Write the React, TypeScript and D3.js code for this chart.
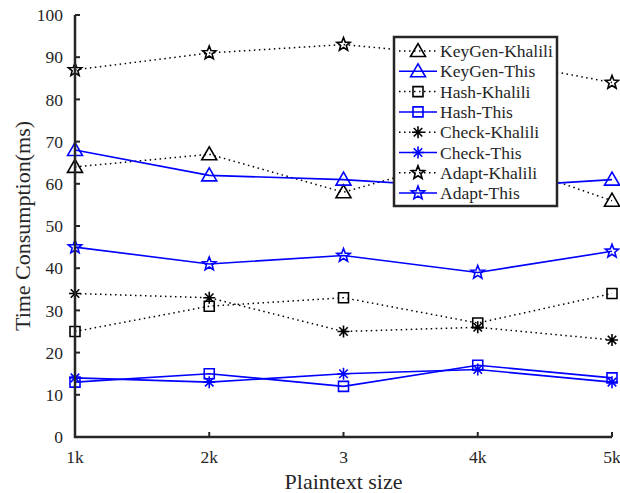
import React from "react";
import * as d3 from "d3";

// categories and series
const categories = ["1k", "2k", "3", "4k", "5k"];
const yTicks = [0, 10, 20, 30, 40, 50, 60, 70, 80, 90, 100];

const keygenKhalili = [64, 67, 58, 67, 56];
const keygenThis = [68, 62, 61, 59, 61];
const hashKhalili = [25, 31, 33, 27, 34];
const hashThis = [13, 15, 12, 17, 14];
const checkKhalili = [34, 33, 25, 26, 23];
const checkThis = [14, 13, 15, 16, 13];
const adaptKhalili = [87, 91, 93, 90, 84];
const adaptThis = [45, 41, 43, 39, 44];

type Marker = "tri" | "sq" | "ast" | "star";

const series: { name: string; values: number[]; marker: Marker; mine: boolean }[] = [
  { name: "KeyGen-Khalili", values: keygenKhalili, marker: "tri", mine: false },
  { name: "KeyGen-This", values: keygenThis, marker: "tri", mine: true },
  { name: "Hash-Khalili", values: hashKhalili, marker: "sq", mine: false },
  { name: "Hash-This", values: hashThis, marker: "sq", mine: true },
  { name: "Check-Khalili", values: checkKhalili, marker: "ast", mine: false },
  { name: "Check-This", values: checkThis, marker: "ast", mine: true },
  { name: "Adapt-Khalili", values: adaptKhalili, marker: "star", mine: false },
  { name: "Adapt-This", values: adaptThis, marker: "star", mine: true },
];

const W = 620;
const H = 493;
const m = { left: 75, right: 612, top: 15, bottom: 437 };
const FONT = "'Liberation Serif', 'Times New Roman', serif";
const AXIS = "#262626";
const TEXT = "#262626";

function markerPath(kind: Marker): string {
  if (kind === "tri") return "M-7.5,5.5L0,-7.5L7.5,5.5Z";
  if (kind === "sq") return "M-5,-5H5V5H-5Z";
  if (kind === "ast") {
    const r = 6, d = r * 0.707;
    return `M${-r},0H${r}M0,${-r}V${r}M${-d},${-d}L${d},${d}M${-d},${d}L${d},${-d}`;
  }
  // pentagram
  const pts: string[] = [];
  for (let i = 0; i < 10; i++) {
    const rr = i % 2 === 0 ? 7 : 3;
    const a = -Math.PI / 2 + (i * Math.PI) / 5;
    pts.push(`${(rr * Math.cos(a)).toFixed(2)},${(rr * Math.sin(a)).toFixed(2)}`);
  }
  return "M" + pts.join("L") + "Z";
}

export default function App() {
  const x = d3.scalePoint<string>().domain(categories).range([m.left, m.right]);
  const y = d3.scaleLinear().domain([0, 100]).range([m.bottom, m.top]);
  const line = d3
    .line<number>()
    .x((_, i) => x(categories[i]) as number)
    .y((d) => y(d));

  const lx = 394, ly = 37, lw = 163, lh = 169;
  const rowH = 20.3;

  return (
    <>
      <style>{"body{margin:0}"}</style>
      <svg width={W} height={H} style={{ display: "block", background: "#fff" }} fontFamily={FONT}>
        {/* series */}
        {series.map((s) => {
          const col = s.mine ? "#0000ff" : "#000";
          return (
            <g key={s.name}>
              <path
                d={line(s.values) || ""}
                fill="none"
                stroke={col}
                strokeWidth={s.mine ? 1.6 : 1.5}
                strokeDasharray={s.mine ? undefined : "1.5,3.5"}
              />
              {s.values.map((v, i) => (
                <path
                  key={i}
                  d={markerPath(s.marker)}
                  transform={`translate(${x(categories[i])},${y(v)})`}
                  fill="none"
                  stroke={col}
                  strokeWidth={1.6}
                />
              ))}
            </g>
          );
        })}

        {/* axes */}
        <path d={`M${m.left},${m.top}V${m.bottom}H${m.right}`} fill="none" stroke={AXIS} strokeWidth={2.5} />
        {yTicks.map((t) => (
          <g key={t}>
            <line x1={m.left} x2={m.left + 5} y1={y(t)} y2={y(t)} stroke={AXIS} strokeWidth={2} />
            <text x={m.left - 12} y={y(t)} dy="0.35em" textAnchor="end" fontSize={17.5} fill={TEXT}>
              {t}
            </text>
          </g>
        ))}
        {categories.map((c) => (
          <g key={c}>
            <line x1={x(c)} x2={x(c)} y1={m.bottom} y2={m.bottom - 5} stroke={AXIS} strokeWidth={2} />
            <text x={x(c)} y={m.bottom + 26} textAnchor="middle" fontSize={17.5} fill={TEXT}>
              {c}
            </text>
          </g>
        ))}
        <text x={(m.left + m.right) / 2} y={489} textAnchor="middle" fontSize={22} fill={TEXT}>
          Plaintext size
        </text>
        <text
          transform={`translate(30,${(m.top + m.bottom) / 2}) rotate(-90)`}
          textAnchor="middle"
          fontSize={22}
          fill={TEXT}
        >
          Time Consumption(ms)
        </text>

        {/* legend */}
        <rect x={lx} y={ly} width={lw} height={lh} fill="#fff" stroke={AXIS} strokeWidth={2.5} />
        {series.map((s, i) => {
          const cy = ly + 14 + i * rowH;
          const col = s.mine ? "#0000ff" : "#000";
          return (
            <g key={s.name}>
              <line
                x1={lx + 5}
                x2={lx + 43}
                y1={cy}
                y2={cy}
                stroke={col}
                strokeWidth={1.5}
                strokeDasharray={s.mine ? undefined : "1.5,3.5"}
              />
              <path d={markerPath(s.marker)} transform={`translate(${lx + 24},${cy})`} fill="none" stroke={col} strokeWidth={1.6} />
              <text x={lx + 46} y={cy} dy="0.35em" fontSize={17.5} fill={TEXT}>
                {s.name}
              </text>
            </g>
          );
        })}
      </svg>
    </>
  );
}
